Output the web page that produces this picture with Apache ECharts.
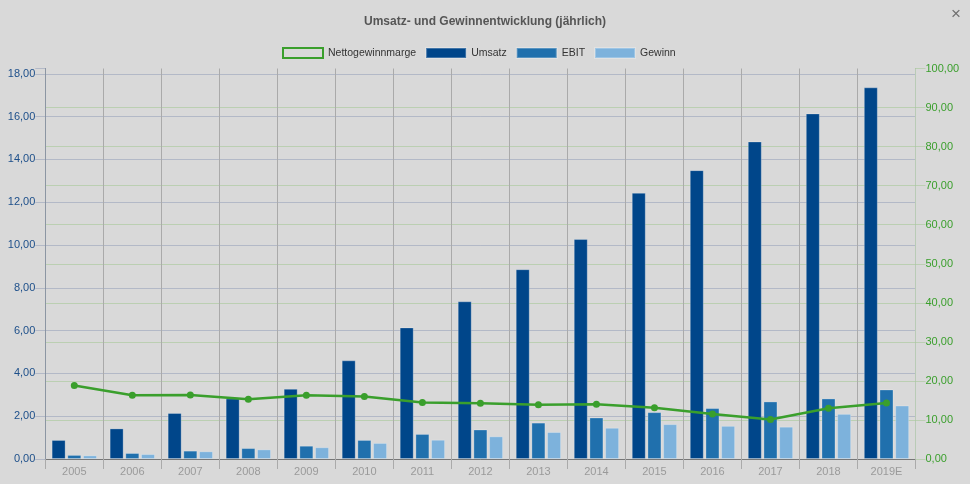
<!DOCTYPE html>
<html>
<head>
<meta charset="utf-8">
<script src="https://cdn.jsdelivr.net/npm/echarts@6/dist/echarts.min.js"></script>
<style>
html,body{margin:0;padding:0;background:#d9d9d9;}
#chart{width:970px;height:484px;}
</style>
</head>
<body>
<div id="chart"></div>
<script>
var years = ['2005','2006','2007','2008','2009','2010','2011','2012','2013','2014','2015','2016','2017','2018','2019E'];
var umsatz = [0.89,1.43,2.15,2.83,3.28,4.61,6.15,7.37,8.87,10.28,12.44,13.50,14.84,16.15,17.37];
var ebit = [0.19,0.28,0.39,0.51,0.62,0.89,1.17,1.38,1.70,1.94,2.19,2.38,2.69,2.83,3.25];
var gewinn = [0.17,0.23,0.36,0.45,0.55,0.75,0.90,1.06,1.26,1.46,1.63,1.55,1.51,2.11,2.50];
var marge = [18.8,16.3,16.4,15.3,16.3,16.0,14.45,14.3,13.9,14.0,13.1,11.5,10.1,13.0,14.35];

var FONT = '"Liberation Sans", Arial, sans-serif';
var fmt = function (v) { return v.toFixed(2).replace('.', ','); };
var blueGrid = 'rgba(110,125,165,0.35)';
var greenGrid = 'rgba(120,185,90,0.3)';
var leftColors = []; for (var i = 0; i < 10; i++) leftColors.push(blueGrid); leftColors.push('rgba(0,0,0,0)');
var rightColors = []; for (var j = 0; j < 10; j++) rightColors.push(greenGrid); rightColors.push('rgba(0,0,0,0)');

var chart = echarts.init(document.getElementById('chart'), null, {renderer: 'canvas'});
var barBorder = {borderColor: 'rgba(255,255,255,0.25)', borderWidth: 1};
chart.setOption({
  backgroundColor: '#d9d9d9',
  animation: false,
  textStyle: {fontFamily: FONT},
  title: {
    text: 'Umsatz- und Gewinnentwicklung (jährlich)',
    left: 'center', top: 11,
    textStyle: {fontSize: 12, fontWeight: 'bold', color: '#555', fontFamily: FONT}
  },
  graphic: [{
    type: 'text', left: 951, top: 6,
    style: {text: '×', fill: '#707070', font: '17px ' + FONT}
  }],
  legend: {
    top: 42, left: 277,
    itemWidth: 40, itemHeight: 10, itemGap: 9,
    textStyle: {fontSize: 10.5, color: '#333', fontFamily: FONT},
    data: [
      {name: 'Nettogewinnmarge', icon: 'rect', itemStyle: {color: 'rgba(0,0,0,0)', borderColor: '#3a9f2c', borderWidth: 2}},
      {name: 'Umsatz', icon: 'rect'},
      {name: 'EBIT', icon: 'rect'},
      {name: 'Gewinn', icon: 'rect'}
    ]
  },
  grid: {left: 45.3, right: 54.5, top: 68.5, bottom: 25, containLabel: false},
  xAxis: {
    type: 'category', data: years,
    axisLine: {lineStyle: {color: '#777', width: 1}},
    axisTick: {show: true, length: 10, lineStyle: {color: '#aaa'}},
    axisLabel: {color: '#9a9a9a', fontSize: 11, margin: 7, fontFamily: FONT},
    splitLine: {show: true, lineStyle: {color: '#aaa', width: 1}}
  },
  yAxis: [{
    type: 'value', min: 0, max: 18.25, interval: 2, position: 'left',
    axisLine: {show: true, lineStyle: {color: '#8c96a3'}},
    axisTick: {show: true, length: 10, lineStyle: {color: blueGrid}},
    axisLabel: {color: '#1d4f8a', fontSize: 11, margin: 10, fontFamily: FONT,
      formatter: function (v) { return (Math.abs(v % 2) < 1e-9) ? fmt(v) : ''; }},
    splitLine: {show: true, lineStyle: {color: leftColors, width: 1}}
  }, {
    type: 'value', min: 0, max: 100, interval: 10, position: 'right',
    axisLine: {show: true, lineStyle: {color: '#b9cbb6'}},
    axisTick: {show: true, length: 10, lineStyle: {color: greenGrid}},
    axisLabel: {color: '#3a9f2c', fontSize: 11, margin: 10, fontFamily: FONT, formatter: fmt},
    splitLine: {show: true, lineStyle: {color: rightColors, width: 1}}
  }],
  series: [{
    name: 'Nettogewinnmarge', type: 'line', yAxisIndex: 1, data: marge, z: 5,
    symbol: 'circle', symbolSize: 7,
    lineStyle: {color: '#3a9f2c', width: 2.5},
    itemStyle: {color: '#3a9f2c'}
  }, {
    name: 'Umsatz', type: 'bar', data: umsatz, barWidth: 14, barGap: '12%',
    itemStyle: Object.assign({color: '#00468a'}, barBorder)
  }, {
    name: 'EBIT', type: 'bar', data: ebit, barWidth: 14, barGap: '12%',
    itemStyle: Object.assign({color: '#2070ad'}, barBorder)
  }, {
    name: 'Gewinn', type: 'bar', data: gewinn, barWidth: 14, barGap: '12%',
    itemStyle: Object.assign({color: '#7db2dc'}, barBorder)
  }]
});
</script>
</body>
</html>
